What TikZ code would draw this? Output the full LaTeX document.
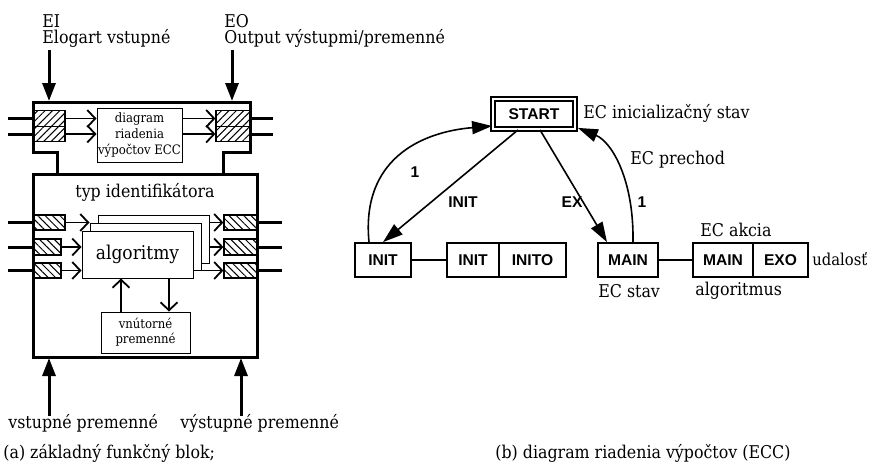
\documentclass[tikz,border=0pt]{standalone}
\usepackage{fontspec}
\setmainfont{DejaVu Serif Condensed}
\newfontfamily\lblsans{Liberation Sans}
\usetikzlibrary{arrows.meta,patterns.meta,calc}
\begin{document}
\begin{tikzpicture}[x=0.5pt,y=-0.5pt,
  txt/.style={font=\fontsize{8.8}{10}\selectfont, inner sep=0pt, anchor=base west},
  ctxt/.style={font=\fontsize{8.8}{10}\selectfont, inner sep=0pt},
  smalltxt/.style={font=\fontsize{6.5}{7.5}\selectfont, align=center, inner sep=0pt},
  thickln/.style={line width=1.5pt},
  thinbox/.style={draw, line width=0.5pt, fill=white, inner sep=0pt},
  hatchA/.style={draw, line width=0.6pt, inner sep=0pt, pattern={Lines[angle=45,distance=2.6pt,line width=0.5pt]}},
  hatchB/.style={draw, line width=0.6pt, inner sep=0pt, pattern={Lines[angle=-45,distance=2.6pt,line width=0.5pt]}},
  bigarrow/.style={line width=1.5pt, -{Triangle[length=9pt,width=6.5pt]}},
  chev/.style={line width=0.6pt, -{Straight Barb[length=4pt,width=8.5pt,line width=0.9pt]}},
  stbox/.style={draw, line width=0.9pt, inner sep=0pt, font=\lblsans\bfseries\fontsize{7.8}{9}\selectfont},
  lbl/.style={inner sep=0pt, font=\lblsans\bfseries\fontsize{7.8}{9}\selectfont},
  arr/.style={line width=0.8pt, -{Triangle[length=10pt,width=6.5pt]}},
  link/.style={line width=0.8pt}
]
\useasboundingbox[fill=white] (0,0) rectangle (872,472);

% ---------------- (a) left part ----------------
\node[txt] (ei) at (42,27) {EI};
\node[txt] (eil) at (42,43) {Elogart vstupné};
\node[txt] (eo) at (224,27) {EO};
\node[txt] (eol) at (224,43) {Output výstupmi/premenné};

\coordinate (eis) at (49,50);
\coordinate (eie) at (49,101);
\coordinate (eos) at (232,50);
\coordinate (eoe) at (232,101);
\draw[bigarrow] (eis) -- (eie);
\draw[bigarrow] (eos) -- (eoe);

% top block ports
\node[hatchA, minimum width=16pt, minimum height=7.75pt] (tl1) at (49,118.5) {};
\node[hatchA, minimum width=16pt, minimum height=7.75pt] (tl2) at (49,134) {};
\node[hatchA, minimum width=17pt, minimum height=7.75pt] (tr1) at (233,118.5) {};
\node[hatchA, minimum width=17pt, minimum height=7.75pt] (tr2) at (233,134) {};

\node[thinbox, minimum width=42.5pt, minimum height=27pt, smalltxt, font=\fontsize{6.5}{8}\selectfont] (ecc) at (139.5,135) {diagram\\riadenia\\výpočtov ECC};

\draw[chev] (tl1.east) -- (tl1.east -| ecc.west);
\draw[chev] (tl2.east) -- (tl2.east -| ecc.west);
\draw[chev] (tr1.west -| ecc.east) -- (tr1.west);
\draw[chev] (tr2.west -| ecc.east) -- (tr2.west);

\coordinate (il1) at (8,118.5);
\coordinate (il2) at (8,134);
\coordinate (ol1) at (273,118.5);
\coordinate (ol2) at (273,134);
\draw[thickln] (il1) -- (tl1.west);
\draw[thickln] (il2) -- (tl2.west);
\draw[thickln] (tr1.east) -- (ol1);
\draw[thickln] (tr2.east) -- (ol2);

% top block outline
\draw[thickln, line join=miter] (57,175) -- (57,152) -- (33,152) -- (33,102) -- (250,102) -- (250,152) -- (223,152) -- (223,175);

% lower block
\node[draw, thickln, minimum width=112pt, minimum height=91.5pt, inner sep=0pt] (lb) at (145,265.5) {};
\node[ctxt] (typ) at (145,192) {typ identifikátora};

\node[hatchB, minimum width=16pt, minimum height=7.5pt] (bl1) at (49,222.5) {};
\node[hatchB, minimum width=14pt, minimum height=8pt] (bl2) at (47,247) {};
\node[hatchB, minimum width=14pt, minimum height=7.5pt] (bl3) at (47,270.5) {};
\node[hatchB, minimum width=16.5pt, minimum height=7.5pt] (br1) at (240.5,222.5) {};
\node[hatchB, minimum width=16.5pt, minimum height=8pt] (br2) at (240.5,247) {};
\node[hatchB, minimum width=16.5pt, minimum height=7.5pt] (br3) at (240.5,270.5) {};

\node[thinbox, minimum width=55.5pt, minimum height=24pt] (algc) at (153.5,239) {};
\node[thinbox, minimum width=55.5pt, minimum height=23.5pt] (algb) at (145.5,246.5) {};
\node[thinbox, minimum width=55.5pt, minimum height=23.5pt, ctxt, font=\fontsize{9.5}{11}\selectfont] (alga) at (137.5,254.5) {algoritmy};

\draw[chev] (bl1.east) -- (bl1.east -| algb.west);
\draw[chev] (bl2.east) -- (bl2.east -| alga.west);
\draw[chev] (bl3.east) -- (bl3.east -| alga.west);
\draw[chev] (br1.west -| algc.east) -- (br1.west);
\draw[chev] (br2.west -| algc.east) -- (br2.west);
\draw[chev] (br3.west -| alga.east) -- (br3.west);

\coordinate (jl1) at (8,222.5);
\coordinate (jl2) at (8,247);
\coordinate (jl3) at (8,270.5);
\coordinate (kl1) at (282,222.5);
\coordinate (kl2) at (282,247);
\coordinate (kl3) at (282,270.5);
\draw[thickln] (jl1) -- (bl1.west);
\draw[thickln] (jl2) -- (bl2.west);
\draw[thickln] (jl3) -- (bl3.west);
\draw[thickln] (br1.east) -- (kl1);
\draw[thickln] (br2.east) -- (kl2);
\draw[thickln] (br3.east) -- (kl3);

\node[thinbox, minimum width=44.5pt, minimum height=20.5pt, smalltxt] (vn) at (145.5,332.5) {vnútorné\\premenné};
\draw[chev] (vn.north -| 121,0) -- (alga.south -| 121,0);
\draw[chev] (alga.south -| 169,0) -- (vn.north -| 169,0);

\coordinate (vis) at (49,416);
\coordinate (vie) at (49,358);
\coordinate (vos) at (241,416);
\coordinate (voe) at (241,358);
\draw[bigarrow] (vis) -- (vie);
\draw[bigarrow] (vos) -- (voe);

\node[txt] (vp) at (8,428) {vstupné premenné};
\node[txt] (vyp) at (180,428) {výstupné premenné};
\node[txt] (capa) at (3,458) {(a) základný funkčný blok;};

% ---------------- (b) right part ----------------
\node[stbox, double, double distance=1pt, minimum width=41pt, minimum height=15pt] (start) at (534,114) {START};
\node[ctxt, anchor=west] (ecinit) at (583,113) {EC inicializačný stav};
\node[ctxt, anchor=west] (ecpre) at (630,160) {EC prechod};

\node[stbox, minimum width=28pt, minimum height=17pt] (init) at (383,260) {INIT};
\node[stbox, minimum width=26pt, minimum height=17pt] (ainit) at (473,260) {INIT};
\node[stbox, minimum width=33.5pt, minimum height=17pt] (ainito) at (532.5,260) {INITO};
\node[stbox, minimum width=30pt, minimum height=17pt] (main) at (628,260) {MAIN};
\node[stbox, minimum width=30pt, minimum height=17pt] (amain) at (723,260) {MAIN};
\node[stbox, minimum width=27.5pt, minimum height=17pt] (aexo) at (780.5,260) {EXO};

\draw[link] (init.east) -- (ainit.west);
\draw[link] (main.east) -- (amain.west);

\draw[arr] ($(start.south)+(-16,0)$) -- (init.north);
\draw[arr] ($(start.south)+(6,0)$) -- ($(main.north)+(-21,0)$);
\draw[arr] ($(init.north)+(-14,0)$) .. controls (361,160) and (420,132) .. ($(start.west)+(0,12)$);
\draw[arr] ($(main.north)+(5,0)$) .. controls (634,180) and (612,142) .. ($(start.south east)+(2,-2)$);

\node[lbl] (l1) at (415,172) {1};
\node[lbl] (linit) at (463,202) {INIT};
\node[lbl] (lex) at (572,202) {EX};
\node[lbl] (l2) at (642,202) {1};

\node[ctxt, anchor=west] (akcia) at (700,230) {EC akcia};
\node[ctxt, anchor=west, font=\fontsize{8.2}{10}\selectfont] (udal) at (812,259) {udalosť};
\node[ctxt, anchor=west] (ecstav) at (598,291) {EC stav};
\node[ctxt, anchor=west] (alg) at (695,291) {algoritmus};
\node[txt] (capb) at (495,458) {(b) diagram riadenia výpočtov (ECC)};
\end{tikzpicture}
\end{document}
